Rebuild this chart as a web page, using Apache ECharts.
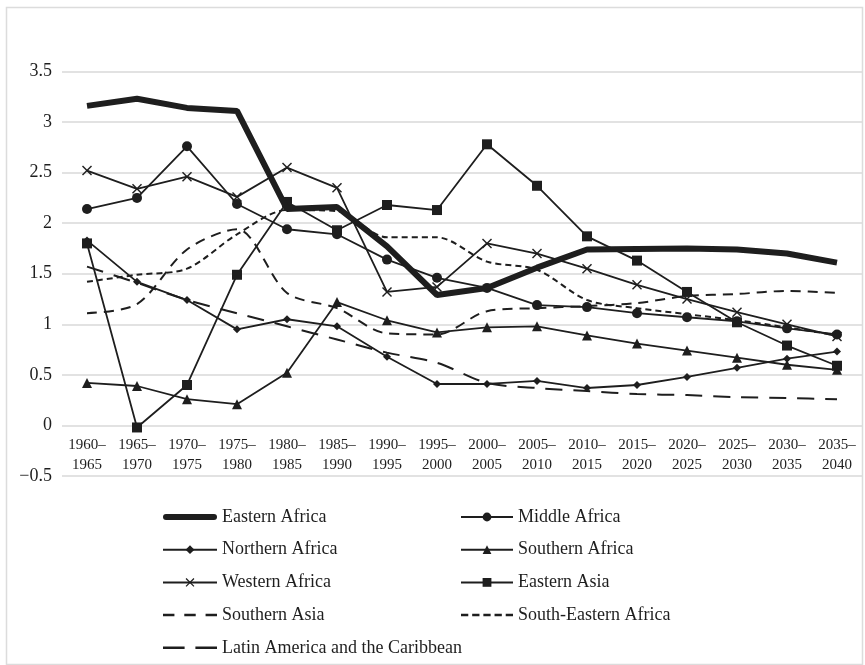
<!DOCTYPE html>
<html>
<head>
<meta charset="utf-8">
<script src="https://cdn.jsdelivr.net/npm/echarts@6/dist/echarts.min.js"></script>
<style>html,body{margin:0;padding:0;background:#fff}#c{width:865px;height:665px}</style>
</head>
<body>
<div id="c"></div>
<script>
const categories = ['1960–\n1965','1965–\n1970','1970–\n1975','1975–\n1980','1980–\n1985','1985–\n1990','1990–\n1995','1995–\n2000','2000–\n2005','2005–\n2010','2010–\n2015','2015–\n2020','2020–\n2025','2025–\n2030','2030–\n2035','2035–\n2040'];
const easternAfrica = [3.16,3.23,3.14,3.11,2.14,2.16,1.77,1.29,1.36,1.56,1.74,1.745,1.75,1.74,1.70,1.61];
const middleAfrica = [2.14,2.25,2.76,2.19,1.94,1.89,1.64,1.46,1.36,1.19,1.17,1.11,1.07,1.03,0.96,0.90];
const northernAfrica = [1.83,1.42,1.24,0.95,1.05,0.98,0.68,0.41,0.41,0.44,0.37,0.40,0.48,0.57,0.66,0.73];
const southernAfrica = [0.42,0.39,0.26,0.21,0.52,1.22,1.04,0.92,0.97,0.98,0.89,0.81,0.74,0.67,0.60,0.55];
const westernAfrica = [2.52,2.34,2.46,2.26,2.55,2.35,1.32,1.37,1.80,1.70,1.55,1.39,1.25,1.12,1.00,0.88];
const easternAsia = [1.80,-0.02,0.40,1.49,2.21,1.93,2.18,2.13,2.78,2.37,1.87,1.63,1.32,1.02,0.79,0.59];
const southernAsia = [1.11,1.20,1.74,1.94,1.31,1.16,0.91,0.90,1.13,1.16,1.18,1.21,1.28,1.30,1.33,1.31];
const southEasternAfrica = [1.42,1.49,1.55,1.89,2.13,2.12,1.86,1.86,1.62,1.54,1.24,1.16,1.10,1.04,0.97,0.89];
const latinAmerica = [1.57,1.41,1.24,1.11,0.98,0.85,0.72,0.62,0.42,0.37,0.34,0.31,0.30,0.28,0.27,0.26];
const yTicks = [-0.5, 3.5, 0.5]; // min, max, interval

const ink = '#1e1e1e';
const serif = 'Liberation Serif';
const crossPath = 'path://M0,1L1,0L5,4L9,0L10,1L6,5L10,9L9,10L5,6L1,10L0,9L4,5Z';
// legend icons for lines without markers
const iconThick = 'path://M3,0L51,0A3,3 0 0 1 51,6L3,6A3,3 0 0 1 3,0Z';
const iconSouthernAsia = 'path://M0,0h11v2.4h-11Z M20.5,0h11v2.4h-11Z M41,0h11v2.4h-11Z';
const iconSEAfrica = 'path://M0,0h7v2.4h-7Z M10.75,0h7v2.4h-7Z M21.5,0h7v2.4h-7Z M32.25,0h7v2.4h-7Z M43,0h7v2.4h-7Z';
const iconLatin = 'path://M0,0h20v2.4h-20Z M30,0h20v2.4h-20Z';

function s(name, data, opt) {
  return Object.assign({
    name: name, type: 'line', data: data,
    symbol: 'none', symbolSize: 9,
    lineStyle: {color: ink, width: 1.8},
    itemStyle: {color: ink},
    color: ink,
    emphasis: {disabled: true},
    z: 3
  }, opt);
}

const legendText = {fontFamily: serif, fontSize: 18, color: ink, lineHeight: 18};
const chart = echarts.init(document.getElementById('c'));
const gridH = 665 - 71.5 - 189;
chart.setOption({
  animation: false,
  backgroundColor: '#fff',
  textStyle: {fontFamily: serif, color: ink},
  graphic: [{
    type: 'rect', left: 4, top: 5, z: -1,
    shape: {width: 856, height: 657},
    style: {fill: 'none', stroke: '#dcdcdc', lineWidth: 1.5}
  }],
  grid: {left: 62, right: 3, top: 71.5, bottom: 189, containLabel: false},
  xAxis: {
    type: 'category', data: categories, boundaryGap: true,
    offset: -gridH * yTicks[2] / (yTicks[1] - yTicks[0]),
    axisLine: {show: false, onZero: false},
    axisTick: {show: false},
    axisLabel: {fontFamily: serif, fontSize: 15, color: ink, lineHeight: 20, margin: 10, interval: 0}
  },
  yAxis: {
    type: 'value', min: yTicks[0], max: yTicks[1], interval: yTicks[2],
    axisLine: {show: false}, axisTick: {show: false},
    splitLine: {lineStyle: {color: '#d9d9d9', width: 1.5}},
    axisLabel: {fontFamily: serif, fontSize: 18, color: ink, margin: 10,
      formatter: v => (v < 0 ? '\u2212' + String(-v) : String(v))}
  },
  legend: [{
    orient: 'vertical', left: 157, top: 503, itemWidth: 54, itemHeight: 11, itemGap: 14.7,
    textStyle: legendText, symbolKeepAspect: true,
    data: [
      {name: 'Eastern Africa', icon: iconThick},
      'Northern Africa',
      'Western Africa',
      {name: 'Southern Asia', icon: iconSouthernAsia},
      {name: 'Latin America and the Caribbean', icon: iconLatin}
    ]
  }, {
    orient: 'vertical', left: 455, top: 503, itemWidth: 52, itemHeight: 11, itemGap: 14.7,
    textStyle: legendText, symbolKeepAspect: true,
    data: [
      'Middle Africa',
      'Southern Africa',
      'Eastern Asia',
      {name: 'South-Eastern Africa', icon: iconSEAfrica}
    ]
  }],
  series: [
    s('Latin America and the Caribbean', latinAmerica, {lineStyle: {color: ink, width: 2, type: [17, 11]}, smooth: 0.3}),
    s('Southern Asia', southernAsia, {lineStyle: {color: ink, width: 2, type: [10, 7]}, smooth: 0.3}),
    s('South-Eastern Africa', southEasternAfrica, {lineStyle: {color: ink, width: 2, type: [6, 4]}, smooth: 0.3}),
    s('Northern Africa', northernAfrica, {symbol: 'diamond', symbolSize: 8}),
    s('Southern Africa', southernAfrica, {symbol: 'triangle', symbolSize: 10}),
    s('Western Africa', westernAfrica, {symbol: crossPath, symbolSize: 10}),
    s('Middle Africa', middleAfrica, {symbol: 'circle', symbolSize: 10}),
    s('Eastern Asia', easternAsia, {symbol: 'rect', symbolSize: 10}),
    s('Eastern Africa', easternAfrica, {lineStyle: {color: ink, width: 6}, z: 4})
  ]
});
</script>
</body>
</html>
